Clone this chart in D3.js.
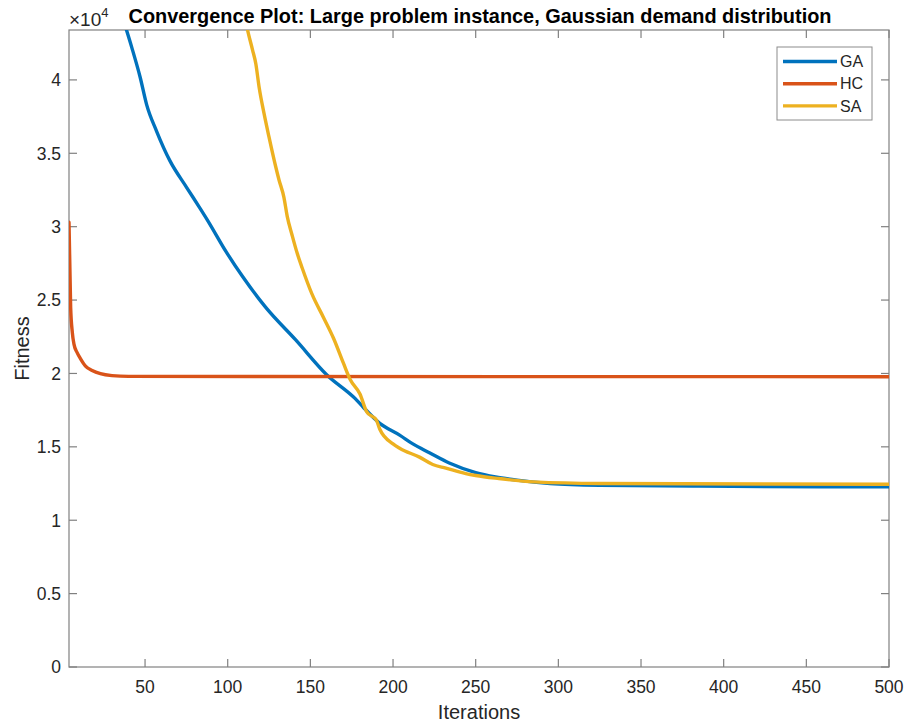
<!DOCTYPE html>
<html>
<head>
<meta charset="utf-8">
<script src="https://cdn.jsdelivr.net/npm/d3@7"></script>
<style>
  body { margin: 0; background: #fff; }
  svg { display: block; font-family: "Liberation Sans", Arial, Helvetica, sans-serif; }
</style>
</head>
<body>
<svg id="chart" width="909" height="727"></svg>
<script>
// Convergence history of three optimisers (fitness vs. iteration)
const gaIter = [36, 42, 47, 51, 57, 65, 75, 83, 88, 99, 109, 123, 141, 160, 177, 182, 192, 204, 212, 222, 234, 250, 262, 275, 295, 325, 385, 500];
const gaFit  = [44400, 42200, 40200, 38300, 36500, 34500, 32700, 31300, 30400, 28300, 26600, 24500, 22300, 19900, 18300, 17700, 16600, 15800, 15200, 14600, 13900, 13250, 12950, 12730, 12500, 12380, 12320, 12270];

const hcIter = [4, 5, 6, 7, 9, 11, 14, 18, 23, 30, 40, 500];
const hcFit  = [30300, 24500, 22800, 22000, 21400, 21000, 20500, 20200, 19980, 19850, 19800, 19780];

const saIter = [110, 112, 115, 117, 119, 122, 125, 129, 131, 134, 136, 139, 142, 145, 151, 158, 164, 170, 174, 180, 184, 190, 192, 200, 204, 216, 224, 232, 244, 250, 264, 285, 325, 500];
const saFit  = [44500, 43400, 42050, 41100, 39500, 37700, 36100, 34100, 33200, 32000, 30700, 29400, 28200, 27200, 25400, 23800, 22400, 20700, 19600, 18600, 17400, 16800, 16200, 15200, 14900, 14300, 13800, 13550, 13180, 13050, 12840, 12610, 12500, 12450];

const seriesNames = ["GA", "HC", "SA"];
const seriesColors = ["#0072BD", "#D95319", "#EDB120"];

const xTicks = [50, 100, 150, 200, 250, 300, 350, 400, 450, 500];
const yTicks = [0, 5000, 10000, 15000, 20000, 25000, 30000, 35000, 40000];
const yTickLabels = ["0", "0.5", "1", "1.5", "2", "2.5", "3", "3.5", "4"];

const titleText = "Convergence Plot: Large problem instance, Gaussian demand distribution";

const svg = d3.select("#chart");
const L = 69, R = 889, T = 30, B = 667;
const axisColor = "#808080";
const textColor = "#262626";

const x = d3.scaleLinear().domain([4, 500]).range([L, R]);
const y = d3.scaleLinear().domain([0, 43400]).range([B, T]);

svg.append("defs").append("clipPath").attr("id", "plotclip")
  .append("rect").attr("x", L).attr("y", T).attr("width", R - L).attr("height", B - T);

// axes box
svg.append("rect").attr("x", L).attr("y", T).attr("width", R - L).attr("height", B - T)
  .attr("fill", "#fff").attr("stroke", axisColor).attr("stroke-width", 1.2);

const tickLen = 8;
const ticks = svg.append("g").attr("stroke", axisColor).attr("stroke-width", 1.2);
xTicks.forEach(v => {
  const px = x(v);
  ticks.append("line").attr("x1", px).attr("x2", px).attr("y1", B).attr("y2", B - tickLen);
  ticks.append("line").attr("x1", px).attr("x2", px).attr("y1", T).attr("y2", T + tickLen);
});
yTicks.forEach(v => {
  const py = y(v);
  ticks.append("line").attr("x1", L).attr("x2", L + tickLen).attr("y1", py).attr("y2", py);
  ticks.append("line").attr("x1", R).attr("x2", R - tickLen).attr("y1", py).attr("y2", py);
});

// tick labels
const labels = svg.append("g").attr("fill", textColor).attr("font-size", 17.5);
xTicks.forEach(v => {
  labels.append("text").attr("x", x(v)).attr("y", 693).attr("text-anchor", "middle").text(v);
});
yTicks.forEach((v, i) => {
  labels.append("text").attr("x", 61).attr("y", y(v)).attr("dy", "0.36em")
    .attr("text-anchor", "end").text(yTickLabels[i]);
});

// exponent marker
const expo = svg.append("text").attr("x", 69).attr("y", 26).attr("fill", textColor).attr("font-size", 19);
expo.append("tspan").text("\u00d710");
expo.append("tspan").attr("font-size", 13).attr("dy", -9).text("4");

// axis titles
svg.append("text").attr("x", (L + R) / 2).attr("y", 719).attr("text-anchor", "middle")
  .attr("fill", textColor).attr("font-size", 20).text("Iterations");
svg.append("text").attr("transform", `translate(29,${(T + B) / 2}) rotate(-90)`)
  .attr("text-anchor", "middle").attr("fill", textColor).attr("font-size", 20).text("Fitness");

// title
svg.append("text").attr("x", 480).attr("y", 23).attr("text-anchor", "middle")
  .attr("fill", "#000").attr("font-size", 19.9).attr("font-weight", "bold").text(titleText);

// series lines
const series = [
  { it: gaIter, f: gaFit },
  { it: hcIter, f: hcFit },
  { it: saIter, f: saFit }
];
const line = d3.line().x(d => x(d[0])).y(d => y(d[1])).curve(d3.curveMonotoneX);
const plot = svg.append("g").attr("clip-path", "url(#plotclip)");
series.forEach((s, i) => {
  const pts = s.it.map((v, j) => [v, s.f[j]]);
  plot.append("path").datum(pts).attr("d", line)
    .attr("fill", "none").attr("stroke", seriesColors[i]).attr("stroke-width", 3.4)
    .attr("stroke-linejoin", "round").attr("stroke-linecap", "round");
});

// legend
const lg = svg.append("g");
lg.append("rect").attr("x", 777).attr("y", 47).attr("width", 95).attr("height", 73)
  .attr("fill", "#fff").attr("stroke", "#8c8c8c").attr("stroke-width", 1);
seriesNames.forEach((n, i) => {
  const ly = 61.5 + i * 22.2;
  lg.append("line").attr("x1", 783).attr("x2", 837).attr("y1", ly).attr("y2", ly)
    .attr("stroke", seriesColors[i]).attr("stroke-width", 3.4);
  lg.append("text").attr("x", 840).attr("y", ly).attr("dy", "0.36em")
    .attr("fill", textColor).attr("font-size", 16).text(n);
});
</script>
</body>
</html>
